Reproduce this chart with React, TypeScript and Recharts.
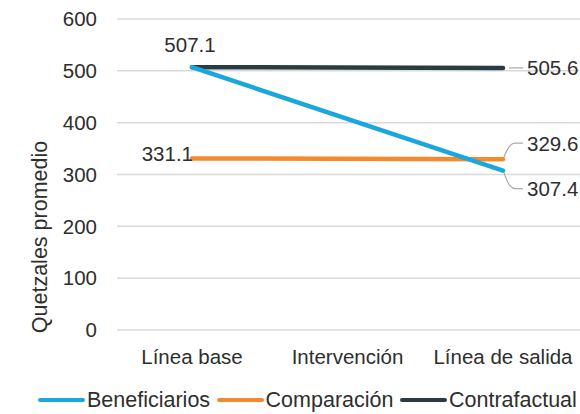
import React from 'react';
import { LineChart, Line, XAxis, YAxis, CartesianGrid, Legend, LabelList } from 'recharts';

const categories = ['Línea base', 'Intervención', 'Línea de salida'];
const beneficiarios = [507.1, null, 307.4];
const comparacion = [331.1, null, 329.6];
const contrafactual = [507.1, null, 505.6];
const yTicks = [0, 100, 200, 300, 400, 500, 600];

const seriesNames = ['Beneficiarios', 'Comparación', 'Contrafactual'];
const seriesColors = ['#1ba6dc', '#f48a2e', '#2a3b44'];

const data = categories.map((c, i) => ({
  cat: c,
  ben: beneficiarios[i],
  comp: comparacion[i],
  cont: contrafactual[i],
}));

const FONT = '"Liberation Sans", Arial, Helvetica, sans-serif';
const TEXT = '#2e2e2e';
const LEADER = '#a8a8a8';

const fmt = (v: number) => v.toFixed(1);

const benLabel = (p: any) => {
  const { x, y, value, index } = p;
  if (value == null) return null;
  if (index === 0) {
    return (
      <text x={x - 2} y={y - 23} textAnchor="middle" dominantBaseline="central" fontSize={20.5} fill={TEXT} fontFamily={FONT}>
        {fmt(value)}
      </text>
    );
  }
  return (
    <g>
      <path d={`M${x + 1},${y + 2} Q${x + 6},${y + 18} ${x + 12},${y + 18} L${x + 20},${y + 18}`} stroke={LEADER} fill="none" strokeWidth={1.2} />
      <text x={x + 24} y={y + 18} textAnchor="start" dominantBaseline="central" fontSize={20.5} fill={TEXT} fontFamily={FONT}>
        {fmt(value)}
      </text>
    </g>
  );
};

const compLabel = (p: any) => {
  const { x, y, value, index } = p;
  if (value == null) return null;
  if (index === 0) {
    return (
      <text x={x + 1} y={y - 5} textAnchor="end" dominantBaseline="central" fontSize={20.5} fill={TEXT} fontFamily={FONT}>
        {fmt(value)}
      </text>
    );
  }
  return (
    <g>
      <path d={`M${x + 1},${y - 2} Q${x + 6},${y - 16} ${x + 12},${y - 16} L${x + 20},${y - 16}`} stroke={LEADER} fill="none" strokeWidth={1.2} />
      <text x={x + 24} y={y - 16} textAnchor="start" dominantBaseline="central" fontSize={20.5} fill={TEXT} fontFamily={FONT}>
        {fmt(value)}
      </text>
    </g>
  );
};

const contLabel = (p: any) => {
  const { x, y, value, index } = p;
  if (value == null || index === 0) return null;
  return (
    <g>
      <path d={`M${x + 6},${y} L${x + 20},${y}`} stroke={LEADER} fill="none" strokeWidth={1.2} />
      <text x={x + 24} y={y} textAnchor="start" dominantBaseline="central" fontSize={20.5} fill={TEXT} fontFamily={FONT}>
        {fmt(value)}
      </text>
    </g>
  );
};

const renderLegend = () => (
  <div style={{ display: 'flex', alignItems: 'center', fontFamily: FONT, fontSize: 21.5, color: TEXT, whiteSpace: 'nowrap', lineHeight: '24px' }}>
    {seriesNames.map((n, i) => (
      <div key={n} style={{ display: 'flex', alignItems: 'center', marginRight: 6.5 }}>
        <div style={{ width: 47, height: 4, borderRadius: 2, background: seriesColors[i], marginRight: 2 }} />
        <span>{n}</span>
      </div>
    ))}
  </div>
);

export default function App() {
  return (
    <div style={{ position: 'absolute', left: 0, top: 0, width: 580, height: 414, overflow: 'hidden', background: '#fff' }}>
      <LineChart width={600} height={414} data={data} margin={{ top: 19, right: 17, bottom: 30, left: 0 }}>
        <CartesianGrid vertical={false} stroke="#dadada" strokeWidth={1.5} />
        <XAxis
          dataKey="cat"
          axisLine={false}
          tickLine={false}
          tickSize={0}
          tickMargin={19}
          padding={{ left: 75, right: 80 }}
          tick={{ fontSize: 20.5, fill: TEXT, fontFamily: FONT }}
          interval={0}
        />
        <YAxis
          width={117}
          domain={[0, 600]}
          ticks={yTicks}
          axisLine={false}
          tickLine={false}
          tickSize={0}
          tickMargin={20}
          tick={{ fontSize: 20.5, fill: TEXT, fontFamily: FONT }}
          label={{
            content: () => (
              <text transform="translate(47,237) rotate(-90)" textAnchor="middle" fontSize={21.5} fill={TEXT} fontFamily={FONT}>
                Quetzales promedio
              </text>
            ),
          }}
        />
        <Legend
          verticalAlign="bottom"
          align="left"
          content={renderLegend}
          wrapperStyle={{ left: 38, bottom: 2, width: 600 }}
        />
        <Line dataKey="cont" name={seriesNames[2]} stroke={seriesColors[2]} strokeWidth={4.5} strokeLinecap="round" dot={false} activeDot={false} connectNulls isAnimationActive={false}>
          <LabelList dataKey="cont" content={contLabel} />
        </Line>
        <Line dataKey="comp" name={seriesNames[1]} stroke={seriesColors[1]} strokeWidth={4.5} strokeLinecap="round" dot={false} activeDot={false} connectNulls isAnimationActive={false}>
          <LabelList dataKey="comp" content={compLabel} />
        </Line>
        <Line dataKey="ben" name={seriesNames[0]} stroke={seriesColors[0]} strokeWidth={4.5} strokeLinecap="round" dot={false} activeDot={false} connectNulls isAnimationActive={false}>
          <LabelList dataKey="ben" content={benLabel} />
        </Line>
      </LineChart>
    </div>
  );
}
